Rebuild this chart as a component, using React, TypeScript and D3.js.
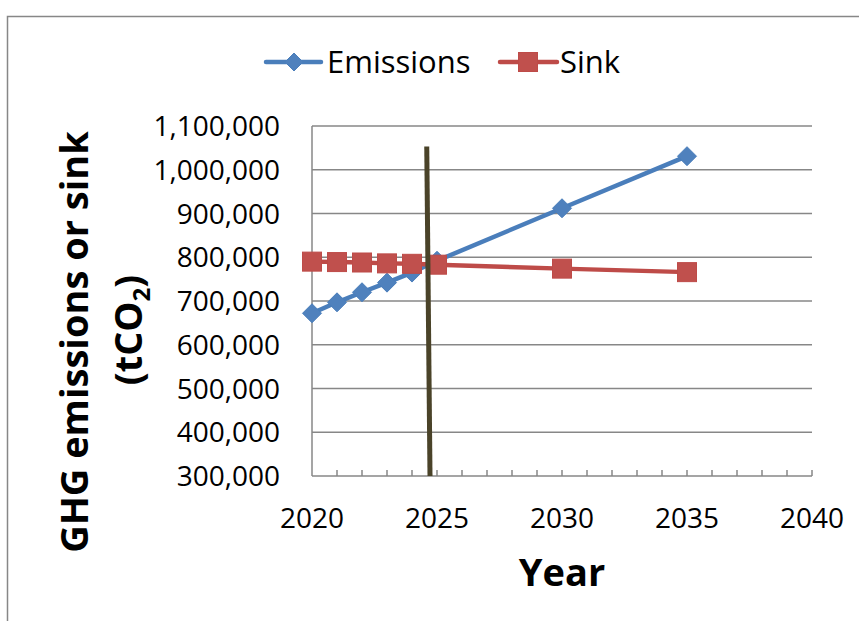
import React from "react";
import * as d3 from "d3";

// Annual GHG emissions and carbon sink, tonnes CO2
const emissionYears = [2020, 2021, 2022, 2023, 2024, 2025, 2030, 2035];
const emissionValues = [672000, 697000, 720000, 742000, 765000, 792000, 912000, 1031000];

const sinkYears = [2020, 2021, 2022, 2023, 2024, 2025, 2030, 2035];
const sinkValues = [790000, 789000, 788000, 786000, 785000, 783000, 774000, 766000];

// Hand-drawn divider near 2025 (year, value at each end)
const dividerYears = [2024.59, 2024.72];
const dividerValues = [1053000, 300000];

const xTicks = [2020, 2025, 2030, 2035, 2040];
const yTicks = [300000, 400000, 500000, 600000, 700000, 800000, 900000, 1000000, 1100000];

const W = 859;
const H = 621;
const FONT = "'Open Sans', 'Noto Sans', sans-serif";
const GRID = "#878787";
const BLUE = "#4a7ebb";
const BLUE_FILL = "#4f81bd";
const RED = "#be4b48";
const RED_FILL = "#c0504d";

export default function App() {
  const x = d3.scaleLinear().domain([2020, 2040]).range([312, 812]);
  const y = d3.scaleLinear().domain([300000, 1100000]).range([476, 126]);
  const fmt = d3.format(",");

  const emissions = emissionYears.map((yr, i) => ({ yr, v: emissionValues[i] }));
  const sink = sinkYears.map((yr, i) => ({ yr, v: sinkValues[i] }));
  const divider = dividerYears.map((yr, i) => ({ yr, v: dividerValues[i] }));

  const line = d3
    .line<{ yr: number; v: number }>()
    .x((d) => x(d.yr))
    .y((d) => y(d.v));

  const diamond = (cx: number, cy: number, r = 9.5) =>
    `M${cx},${cy - r}L${cx + r},${cy}L${cx},${cy + r}L${cx - r},${cy}Z`;
  const sq = 19;

  const minorYears = d3.range(2021, 2041);

  return (
    <svg
      width={W}
      height={H}
      style={{ position: "absolute", left: 0, top: 0, background: "#fff" }}
    >
      {/* outer chart frame */}
      <rect x={7.5} y={16.5} width={900} height={700} fill="none" stroke={GRID} strokeWidth={1.5} />

      {/* legend */}
      <g>
        <line x1={266} x2={321} y1={62} y2={62} stroke={BLUE} strokeWidth={4.5} strokeLinecap="round" />
        <path d={diamond(294, 62, 9)} fill={BLUE_FILL} stroke={BLUE} strokeWidth={1} />
        <text x={327} y={73} fontFamily={FONT} fontSize={31} fill="#000">
          Emissions
        </text>
        <line x1={500} x2={557} y1={62} y2={62} stroke={RED} strokeWidth={4.5} strokeLinecap="round" />
        <rect x={528 - sq / 2} y={62 - sq / 2} width={sq} height={sq} fill={RED_FILL} stroke={RED} strokeWidth={1} />
        <text x={560} y={73} fontFamily={FONT} fontSize={31} fill="#000">
          Sink
        </text>
      </g>

      {/* horizontal gridlines */}
      {yTicks.slice(1).map((t) => (
        <line key={t} x1={x(2020)} x2={x(2040)} y1={y(t)} y2={y(t)} stroke={GRID} strokeWidth={1.5} />
      ))}

      {/* axes */}
      <line x1={x(2020)} x2={x(2020)} y1={y(1100000)} y2={y(300000)} stroke={GRID} strokeWidth={1.5} />
      <line x1={x(2020)} x2={x(2040)} y1={y(300000)} y2={y(300000)} stroke={GRID} strokeWidth={1.5} />
      {minorYears.map((yr) => (
        <line key={yr} x1={x(yr)} x2={x(yr)} y1={y(300000)} y2={y(300000) - 6} stroke={GRID} strokeWidth={1.5} />
      ))}

      {/* y tick labels */}
      {yTicks.map((t) => (
        <text key={t} x={280} y={y(t) + 10} textAnchor="end" fontFamily={FONT} fontSize={28} fill="#000">
          {fmt(t)}
        </text>
      ))}

      {/* x tick labels */}
      {xTicks.map((t) => (
        <text key={t} x={x(t)} y={528} textAnchor="middle" fontFamily={FONT} fontSize={28} fill="#000">
          {t}
        </text>
      ))}

      {/* axis titles */}
      <text x={562} y={586} textAnchor="middle" fontFamily={FONT} fontSize={38} fontWeight="bold" fill="#000">
        Year
      </text>
      <text
        transform="translate(88,342) rotate(-90)"
        textAnchor="middle"
        fontFamily={FONT}
        fontSize={38}
        fontWeight="bold"
        fill="#000"
      >
        GHG emissions or sink
      </text>
      <text
        transform="translate(142,330) rotate(-90)"
        textAnchor="middle"
        fontFamily={FONT}
        fontSize={38}
        fontWeight="bold"
        fill="#000"
      >
        (tCO
        <tspan fontSize={24} dy={8}>
          2
        </tspan>
        <tspan dy={-8}>)</tspan>
      </text>

      {/* emissions series */}
      <path d={line(emissions) ?? ""} fill="none" stroke={BLUE} strokeWidth={4.5} strokeLinejoin="round" />
      {emissions.map((d) => (
        <path key={d.yr} d={diamond(x(d.yr), y(d.v))} fill={BLUE_FILL} stroke={BLUE} strokeWidth={1} />
      ))}

      {/* sink series */}
      <path d={line(sink) ?? ""} fill="none" stroke={RED} strokeWidth={4.5} strokeLinejoin="round" />
      {sink.map((d) => (
        <rect
          key={d.yr}
          x={x(d.yr) - sq / 2}
          y={y(d.v) - sq / 2}
          width={sq}
          height={sq}
          fill={RED_FILL}
          stroke={RED}
          strokeWidth={1}
        />
      ))}

      {/* divider line */}
      <path d={line(divider) ?? ""} fill="none" stroke="#4a4329" strokeWidth={5} />
    </svg>
  );
}
